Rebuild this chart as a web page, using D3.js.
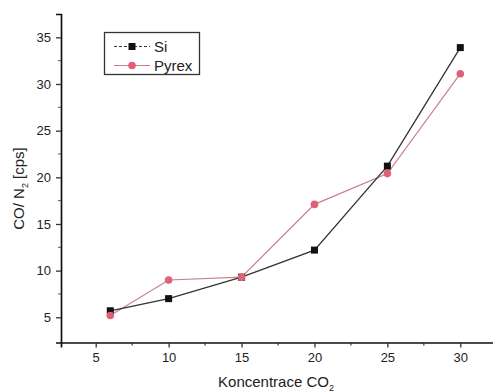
<!DOCTYPE html>
<html>
<head>
<meta charset="utf-8">
<script src="https://cdn.jsdelivr.net/npm/d3@7"></script>
<style>
  body { margin: 0; background: #fff; }
  svg text { font-family: "Liberation Sans", Arial, sans-serif; fill: #222; }
</style>
</head>
<body>
<svg id="chart" width="493" height="392"></svg>
<script>
const conc = [6, 10, 15, 20, 25, 30];
const si = [5.7, 7.0, 9.3, 12.2, 21.2, 33.9];
const pyrex = [5.2, 9.0, 9.3, 17.1, 20.4, 31.1];
const xTicks = [5, 10, 15, 20, 25, 30];
const yTicks = [5, 10, 15, 20, 25, 30, 35];

const svg = d3.select('#chart');

const x = d3.scaleLinear().domain([2.62, 34.3]).range([61, 523]);
const y = d3.scaleLinear().domain([2.3, 37.5]).range([342.5, 14]);

// axes
const xAxis = svg.append('g').attr('transform', 'translate(0,342.5)')
  .call(d3.axisBottom(x).tickValues(xTicks).tickSize(5).tickPadding(5));
const yAxis = svg.append('g').attr('transform', 'translate(61,0)')
  .call(d3.axisLeft(y).tickValues(yTicks).tickSize(5).tickPadding(5));

[xAxis, yAxis].forEach(g => {
  g.select('.domain').attr('stroke', '#111').attr('stroke-width', 1.7);
  g.selectAll('.tick line').attr('stroke', '#333').attr('stroke-width', 1.3);
  g.selectAll('.tick text').attr('font-size', 13).attr('fill', '#222');
});

// minor ticks
svg.append('g').selectAll('line')
  .data([2.5, 7.5, 12.5, 17.5, 22.5, 27.5, 32.5].filter(d => x(d) > 61))
  .join('line')
  .attr('x1', d => x(d)).attr('x2', d => x(d))
  .attr('y1', 342.5).attr('y2', 345.5)
  .attr('stroke', '#333').attr('stroke-width', 1.2);
svg.append('g').selectAll('line')
  .data([7.5, 12.5, 17.5, 22.5, 27.5, 32.5, 37.5].filter(d => y(d) > 14))
  .join('line')
  .attr('x1', 61).attr('x2', 58)
  .attr('y1', d => y(d)).attr('y2', d => y(d))
  .attr('stroke', '#555').attr('stroke-width', 1);

// lines
const line = d3.line().x(d => x(d[0])).y(d => y(d[1]));
const siPts = conc.map((c, i) => [c, si[i]]);
const pyPts = conc.map((c, i) => [c, pyrex[i]]);

svg.append('path').datum(pyPts).attr('d', line)
  .attr('fill', 'none').attr('stroke', '#c98088').attr('stroke-width', 1.2);
svg.append('path').datum(siPts).attr('d', line)
  .attr('fill', 'none').attr('stroke', '#333').attr('stroke-width', 1.3);

svg.append('g').selectAll('rect').data(siPts).join('rect')
  .attr('x', d => x(d[0]) - 3.5).attr('y', d => y(d[1]) - 3.5)
  .attr('width', 7).attr('height', 7).attr('fill', '#111');
svg.append('g').selectAll('circle').data(pyPts).join('circle')
  .attr('cx', d => x(d[0])).attr('cy', d => y(d[1])).attr('r', 3.8)
  .attr('fill', '#e0607a');

// legend
const lg = svg.append('g');
lg.append('rect').attr('x', 104.5).attr('y', 32.5).attr('width', 95).attr('height', 42)
  .attr('fill', 'none').attr('stroke', '#333').attr('stroke-width', 1.3);
lg.append('line').attr('x1', 114).attr('x2', 150).attr('y1', 46.5).attr('y2', 46.5)
  .attr('stroke', '#333').attr('stroke-width', 1).attr('stroke-dasharray', '3,2');
lg.append('rect').attr('x', 128.5).attr('y', 43).attr('width', 7).attr('height', 7).attr('fill', '#111');
lg.append('text').attr('x', 154).attr('y', 51.5).attr('font-size', 15).text('Si');
lg.append('line').attr('x1', 114).attr('x2', 150).attr('y1', 65.5).attr('y2', 65.5)
  .attr('stroke', '#c98088').attr('stroke-width', 1.2);
lg.append('circle').attr('cx', 132).attr('cy', 65.5).attr('r', 3.8).attr('fill', '#e0607a');
lg.append('text').attr('x', 154).attr('y', 70.5).attr('font-size', 15).text('Pyrex');

// axis titles
const xt = svg.append('text').attr('x', 276).attr('y', 386.5).attr('text-anchor', 'middle')
  .attr('font-size', 15);
xt.append('tspan').text('Koncentrace CO');
xt.append('tspan').attr('font-size', 9).attr('dy', 4).text('2');

const yt = svg.append('text').attr('transform', 'translate(23.5,188.5) rotate(-90)')
  .attr('text-anchor', 'middle').attr('font-size', 15);
yt.append('tspan').text('CO/ N');
yt.append('tspan').attr('font-size', 9).attr('dy', 4).text('2');
yt.append('tspan').attr('dy', -4).text(' [cps]');
</script>
</body>
</html>
